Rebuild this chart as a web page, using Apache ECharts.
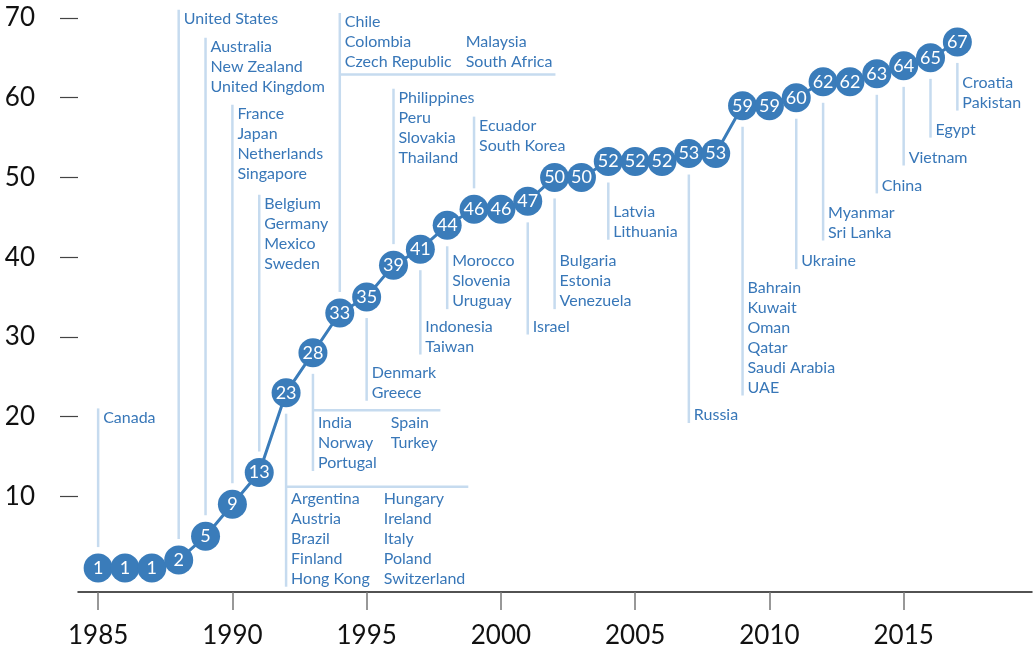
<!DOCTYPE html>
<html>
<head>
<meta charset="utf-8">
<script src="https://cdn.jsdelivr.net/npm/echarts@6/dist/echarts.min.js"></script>
<style>
  html, body { margin: 0; padding: 0; background: #fff; }
  #chart { width: 1034px; height: 651px; }
</style>
</head>
<body>
<div id="chart"></div>
<script>
// countries with the policy in place, by year
var years = [1985, 1986, 1987, 1988, 1989, 1990, 1991, 1992, 1993, 1994, 1995, 1996, 1997, 1998, 1999, 2000,
  2001, 2002, 2003, 2004, 2005, 2006, 2007, 2008, 2009, 2010, 2011, 2012, 2013, 2014, 2015, 2016, 2017];
var counts = [1, 1, 1, 2, 5, 9, 13, 23, 28, 33, 35, 39, 41, 44, 46, 46,
  47, 50, 50, 52, 52, 52, 53, 53, 59, 59, 60, 62, 62, 63, 64, 65, 67];

var xTicks = [1985, 1990, 1995, 2000, 2005, 2010, 2015];
var yTicks = [10, 20, 30, 40, 50, 60, 70];

// annotations: year, side of the point, value of first text row, value of rule (grouped ones)
var annoYears = [1985, 1988, 1989, 1990, 1991, 1992, 1993, 1994, 1995, 1996, 1997, 1998,
  1999, 2001, 2002, 2004, 2007, 2009, 2011, 2012, 2014, 2015, 2016, 2017];
var annoDir = ['up', 'up', 'up', 'up', 'up', 'down', 'down', 'up', 'down', 'up', 'down', 'down',
  'up', 'down', 'down', 'down', 'down', 'down', 'down', 'down', 'down', 'down', 'down', 'down'];
var annoText = [19.9, 69.9, 66.4, 58.0, 46.7, 9.7, 19.2, 69.5, 25.5, 60.0, 31.3, 39.5,
  56.5, 31.3, 39.5, 45.7, 20.2, 36.2, 39.5, 45.6, 49.0, 52.5, 56.0, 61.9];
var annoRule = [null, null, null, null, null, 11.2, 20.8, 62.9, null, null, null, null,
  null, null, null, null, null, null, null, null, null, null, null, null];
var annoCol1 = [
  ['Canada'],
  ['United States'],
  ['Australia', 'New Zealand', 'United Kingdom'],
  ['France', 'Japan', 'Netherlands', 'Singapore'],
  ['Belgium', 'Germany', 'Mexico', 'Sweden'],
  ['Argentina', 'Austria', 'Brazil', 'Finland', 'Hong Kong'],
  ['India', 'Norway', 'Portugal'],
  ['Chile', 'Colombia', 'Czech Republic'],
  ['Denmark', 'Greece'],
  ['Philippines', 'Peru', 'Slovakia', 'Thailand'],
  ['Indonesia', 'Taiwan'],
  ['Morocco', 'Slovenia', 'Uruguay'],
  ['Ecuador', 'South Korea'],
  ['Israel'],
  ['Bulgaria', 'Estonia', 'Venezuela'],
  ['Latvia', 'Lithuania'],
  ['Russia'],
  ['Bahrain', 'Kuwait', 'Oman', 'Qatar', 'Saudi Arabia', 'UAE'],
  ['Ukraine'],
  ['Myanmar', 'Sri Lanka'],
  ['China'],
  ['Vietnam'],
  ['Egypt'],
  ['Croatia', 'Pakistan']
];
var annoCol2 = [null, null, null, null, null,
  ['Hungary', 'Ireland', 'Italy', 'Poland', 'Switzerland'],
  ['Spain', 'Turkey'],
  ['Malaysia', 'South Africa'],
  null, null, null, null, null, null, null, null, null, null, null, null, null, null, null, null];

var BLUE = '#3a7cba';
var TEXT_BLUE = '#3877b8';
var PALE = '#c6dbef';
var FONT = 'Lato';
var ROW = 20;

var measure = document.createElement('canvas').getContext('2d');
measure.font = '16px ' + FONT;
function widest(list) {
  return Math.max.apply(null, list.map(function (s) { return measure.measureText(s).width; }));
}

var chart = echarts.init(document.getElementById('chart'), null, { renderer: 'canvas' });

function renderAnno(params, api) {
  var i = params.dataIndex;
  var p = api.coord([api.value(0), api.value(1)]);
  var first = api.coord([api.value(0), api.value(2)])[1];
  var x = p[0];
  var up = annoDir[i] === 'up';
  var col1 = annoCol1[i];
  var col2 = annoCol2[i];
  var last = first + (col1.length - 1) * ROW;
  var y0 = up ? p[1] - 21 : p[1] + 21;
  var y1 = up ? first - 9 : last + 8;
  var children = [{
    type: 'line',
    shape: { x1: x, y1: y0, x2: x, y2: y1 },
    style: { stroke: PALE, lineWidth: 2.5 }
  }, {
    type: 'text',
    style: {
      text: col1.join('\n'), x: x + 5, y: first - ROW / 2,
      fill: TEXT_BLUE, fontSize: 16, fontFamily: FONT, lineHeight: ROW,
      align: 'left', verticalAlign: 'top'
    }
  }];
  if (col2) {
    var x2 = x + 5 + widest(col1) + 14;
    var shift = up ? (col1.length - col2.length) * ROW : 0;
    children.push({
      type: 'text',
      style: {
        text: col2.join('\n'), x: x2, y: first - ROW / 2 + shift,
        fill: TEXT_BLUE, fontSize: 16, fontFamily: FONT, lineHeight: ROW,
        align: 'left', verticalAlign: 'top'
      }
    });
    var ry = api.coord([api.value(0), annoRule[i]])[1];
    children.push({
      type: 'line',
      shape: { x1: x, y1: ry, x2: x2 + widest(col2) + 3, y2: ry },
      style: { stroke: PALE, lineWidth: 2.5 }
    });
  }
  return { type: 'group', children: children };
}

var option = {
  animation: false,
  backgroundColor: '#fff',
  grid: { left: 78, right: 2, top: 18, bottom: 59, containLabel: false, outerBoundsMode: 'none' },
  xAxis: {
    type: 'value',
    min: 1984.25,
    max: 2019.78,
    splitLine: { show: false },
    axisLine: { show: true, onZero: false, lineStyle: { color: '#1a1a1a', width: 1.5 } },
    axisTick: { show: true, length: 18, customValues: xTicks, lineStyle: { color: '#777', width: 1.5 } },
    axisLabel: {
      customValues: xTicks, margin: 31, color: '#111', fontSize: 26, fontFamily: FONT,
      formatter: function (v) { return String(v); }
    }
  },
  yAxis: {
    type: 'value',
    min: -2,
    max: 70,
    splitLine: { show: false },
    axisLine: { show: false },
    axisTick: { show: true, length: 18, customValues: yTicks, lineStyle: { color: '#444', width: 1.2 } },
    axisLabel: { customValues: yTicks, margin: 43, color: '#111', fontSize: 26, fontFamily: FONT }
  },
  series: [{
    type: 'custom',
    z: 1,
    clip: false,
    silent: true,
    renderItem: renderAnno,
    data: annoYears.map(function (y, i) {
      return [y, counts[years.indexOf(y)], annoText[i]];
    })
  }, {
    type: 'line',
    z: 3,
    data: years.map(function (y, i) { return [y, counts[i]]; }),
    symbol: 'circle',
    symbolSize: 29,
    showAllSymbol: true,
    itemStyle: { color: BLUE, borderWidth: 0 },
    lineStyle: { color: BLUE, width: 3 },
    label: {
      show: true, position: 'inside', color: '#fff', fontSize: 18, fontFamily: FONT,
      formatter: function (p) { return p.value[1]; }
    },
    labelLayout: { hideOverlap: false }
  }]
};

chart.setOption(option);
</script>
</body>
</html>
